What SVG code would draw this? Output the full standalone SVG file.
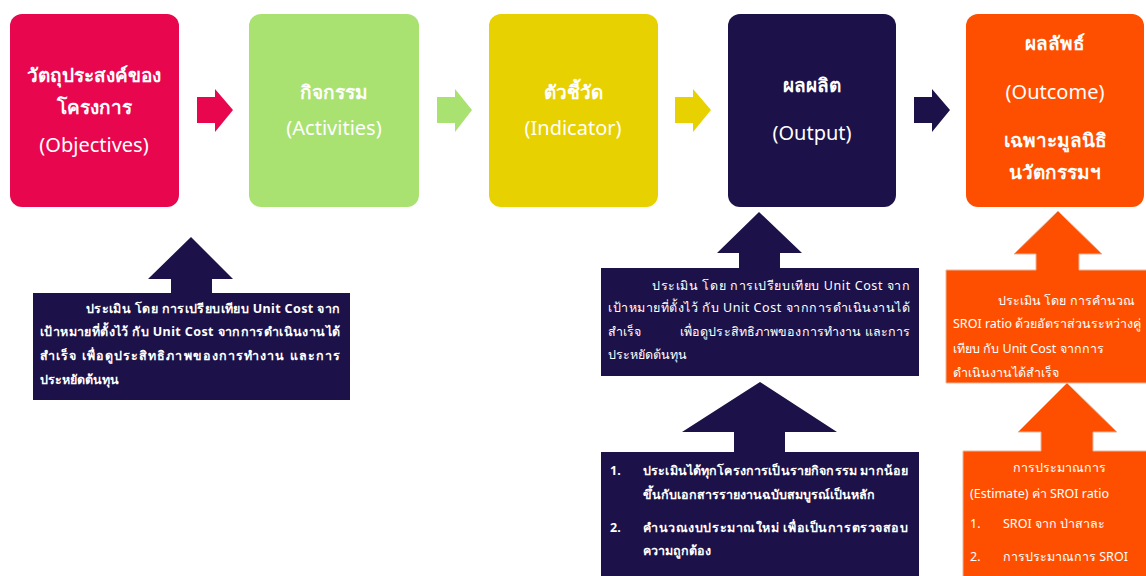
<svg xmlns="http://www.w3.org/2000/svg" width="1146" height="576" viewBox="0 0 1146 576">
<style>
text{font-family:"Noto Sans","DejaVu Sans",sans-serif;fill:#fff}
.h{font-size:19px;font-weight:bold;text-anchor:middle}
.e{font-size:20px;text-anchor:middle}
.c{font-size:12.5px;font-weight:bold}
.co{font-size:12.5px}
.pink{fill:#E8074F}.green{fill:#A9E271}.yellow{fill:#E8D100}.navy{fill:#1C1148}.orange{fill:#FE4F00}
.ob{stroke:#E9B59A;stroke-width:1}
</style>
<rect width="1146" height="576" fill="#fff"/>
<g id="connectors">
<path class="pink" d="M197,97H215V89L233,110L215,132V123H197Z"/>
<path class="green" d="M437,97H455V89L472,110L455,132V123H437Z"/>
<path class="yellow" d="M675,97H693V89L711,110L693,132V123H675Z"/>
<path class="navy" d="M914,97H932V89L950,110L932,132V123H914Z"/>
</g>
<g id="objectives">
<rect class="pink" x="10" y="14" width="169" height="193" rx="12"/>
<text class="h" x="94" y="82">วัตถุประสงค์ของ</text>
<text class="h" x="94" y="114">โครงการ</text>
<text class="e" x="94" y="152">(Objectives)</text>
</g>
<g id="activities">
<rect class="green" x="249" y="14" width="170" height="193" rx="12"/>
<text class="h" x="334" y="99">กิจกรรม</text>
<text class="e" x="334" y="135">(Activities)</text>
</g>
<g id="indicator">
<rect class="yellow" x="489" y="14" width="169" height="193" rx="12"/>
<text class="h" x="573" y="99">ตัวชี้วัด</text>
<text class="e" x="573" y="135">(Indicator)</text>
</g>
<g id="output">
<rect class="navy" x="728" y="14" width="168" height="193" rx="12"/>
<text class="h" x="812" y="92">ผลผลิต</text>
<text class="e" x="812" y="140">(Output)</text>
</g>
<g id="outcome">
<rect class="orange" x="966" y="14" width="178" height="193" rx="12"/>
<text class="h" x="1055" y="50">ผลลัพธ์</text>
<text class="e" x="1055" y="99">(Outcome)</text>
<text class="h" x="1055" y="147">เฉพาะมูลนิธิ</text>
<text class="h" x="1055" y="179">นวัตกรรมฯ</text>
</g>
<g id="note-objectives">
<path class="navy" d="M33,293H171V279H148L191,237L233,279H212V293H350V400H33Z"/>
<text class="c" x="86" y="313" textLength="254" lengthAdjust="spacing">ประเมิน โดย การเปรียบเทียบ Unit Cost จาก</text>
<text class="c" x="40" y="336" textLength="300" lengthAdjust="spacing">เป้าหมายที่ตั้งไว้ กับ Unit Cost จากการดำเนินงานได้</text>
<text class="c" x="40" y="360" textLength="300" lengthAdjust="spacing">สำเร็จ เพื่อดูประสิทธิภาพของการทำงาน และการ</text>
<text class="c" x="40" y="384">ประหยัดต้นทุน</text>
</g>
<g id="note-output">
<path class="navy" d="M601,268H739V253H717L759,212L802,253H780V268H919V376H601Z"/>
<text class="co" x="652" y="290" textLength="258" lengthAdjust="spacing">ประเมิน โดย การเปรียบเทียบ Unit Cost จาก</text>
<text class="co" x="608" y="312" textLength="302" lengthAdjust="spacing">เป้าหมายที่ตั้งไว้ กับ Unit Cost จากการดำเนินงานได้</text>
<text class="co" x="608" y="336">สำเร็จ</text>
<text class="co" x="680" y="336" textLength="230" lengthAdjust="spacing">เพื่อดูประสิทธิภาพของการทำงาน และการ</text>
<text class="co" x="608" y="359">ประหยัดต้นทุน</text>
</g>
<g id="note-method">
<path class="navy" d="M601,452H734V432H682L760,382L837,432H785V452H919V580H601Z"/>
<text class="c" x="610" y="475">1.</text>
<text class="c" x="643" y="475" textLength="265" lengthAdjust="spacing">ประเมินได้ทุกโครงการเป็นรายกิจกรรม มากน้อย</text>
<text class="c" x="643" y="499">ขึ้นกับเอกสารรายงานฉบับสมบูรณ์เป็นหลัก</text>
<text class="c" x="610" y="532">2.</text>
<text class="c" x="643" y="532" textLength="265" lengthAdjust="spacing">คำนวณงบประมาณใหม่ เพื่อเป็นการตรวจสอบ</text>
<text class="c" x="643" y="555">ความถูกต้อง</text>
</g>
<g id="note-outcome">
<path class="orange ob" d="M946,270H1036V254H1014L1058,211L1102,254H1079V270H1150V383H946Z"/>
<text class="co" x="998" y="305">ประเมิน โดย การคำนวณ</text>
<text class="co" x="953" y="328">SROI ratio ด้วยอัตราส่วนระหว่างคู่</text>
<text class="co" x="953" y="353">เทียบ กับ Unit Cost จากการ</text>
<text class="co" x="953" y="377">ดำเนินงานได้สำเร็จ</text>
</g>
<g id="note-estimate">
<path class="orange ob" d="M963,451H1041V432H1018L1067,383L1117,432H1093V451H1150V580H963Z"/>
<text class="co" x="1013" y="472">การประมาณการ</text>
<text class="co" x="970" y="498">(Estimate) ค่า SROI ratio</text>
<text class="co" x="970" y="528">1.</text>
<text class="co" x="1003" y="528">SROI จาก ป่าสาละ</text>
<text class="co" x="970" y="561">2.</text>
<text class="co" x="1003" y="561">การประมาณการ SROI</text>
</g>
</svg>
